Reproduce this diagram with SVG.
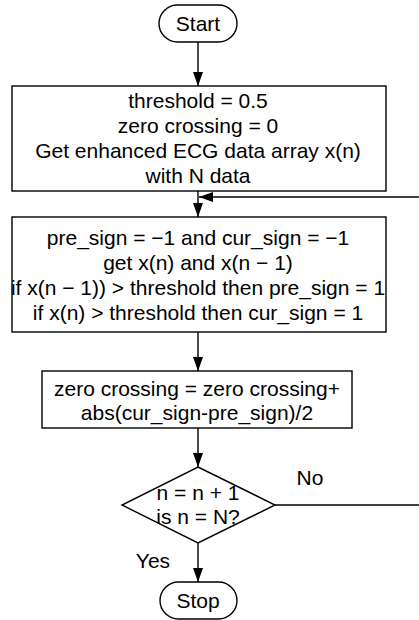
<svg xmlns="http://www.w3.org/2000/svg" width="419" height="620" viewBox="0 0 419 620">
<style>
.s{fill:#fff;stroke:#000;stroke-width:1.4}
.c{fill:none;stroke:#000;stroke-width:1.4}
text{font-family:"Liberation Sans",Arial,sans-serif;font-size:21px;fill:#000;text-anchor:middle}
</style>
<defs>
<marker id="ah" markerUnits="userSpaceOnUse" markerWidth="14" markerHeight="10" refX="14" refY="5" orient="auto"><path d="M0,0 L14,5 L0,10 Z" fill="#000"/></marker>
</defs>
<rect width="419" height="620" fill="#fff"/>
<g id="connectors">
<line class="c" x1="198" y1="42" x2="198" y2="86" marker-end="url(#ah)"/>
<line class="c" x1="198" y1="191" x2="198" y2="217" marker-end="url(#ah)"/>
<line class="c" x1="419" y1="197" x2="199" y2="197" marker-end="url(#ah)"/>
<line class="c" x1="198" y1="332" x2="198" y2="371" marker-end="url(#ah)"/>
<line class="c" x1="198" y1="428" x2="198" y2="467" marker-end="url(#ah)"/>
<line class="c" x1="275" y1="505" x2="419" y2="505"/>
<line class="c" x1="198" y1="543" x2="198" y2="582" marker-end="url(#ah)"/>
<text x="310" y="485">No</text>
<text x="153" y="568">Yes</text>
</g>
<g id="start">
<rect class="s" x="159" y="5" width="78" height="37" rx="18.5"/>
<text x="198" y="31">Start</text>
</g>
<g id="init">
<rect class="s" x="12" y="86" width="374" height="105"/>
<text x="198" y="108">threshold = 0.5</text>
<text x="198" y="133">zero crossing = 0</text>
<text x="198" y="158">Get enhanced ECG data array x(n)</text>
<text x="198" y="183">with N data</text>
</g>
<g id="signs">
<rect class="s" x="12" y="217" width="374" height="115"/>
<text x="198" y="245">pre_sign = −1 and cur_sign = −1</text>
<text x="198" y="270">get x(n) and x(n − 1)</text>
<text x="198" y="295">if x(n − 1)) &gt; threshold then pre_sign = 1</text>
<text x="198" y="320">if x(n) &gt; threshold then cur_sign = 1</text>
</g>
<g id="update">
<rect class="s" x="42" y="371" width="310" height="57"/>
<text x="197" y="396">zero crossing = zero crossing+</text>
<text x="197" y="420">abs(cur_sign-pre_sign)/2</text>
</g>
<g id="decision">
<polygon class="s" points="198,467 275,505 198,543 122,505"/>
<text x="198" y="500">n = n + 1</text>
<text x="198" y="524">is n = N?</text>
</g>
<g id="stop">
<rect class="s" x="160" y="582" width="77" height="37" rx="18.5"/>
<text x="198" y="608">Stop</text>
</g>
</svg>
